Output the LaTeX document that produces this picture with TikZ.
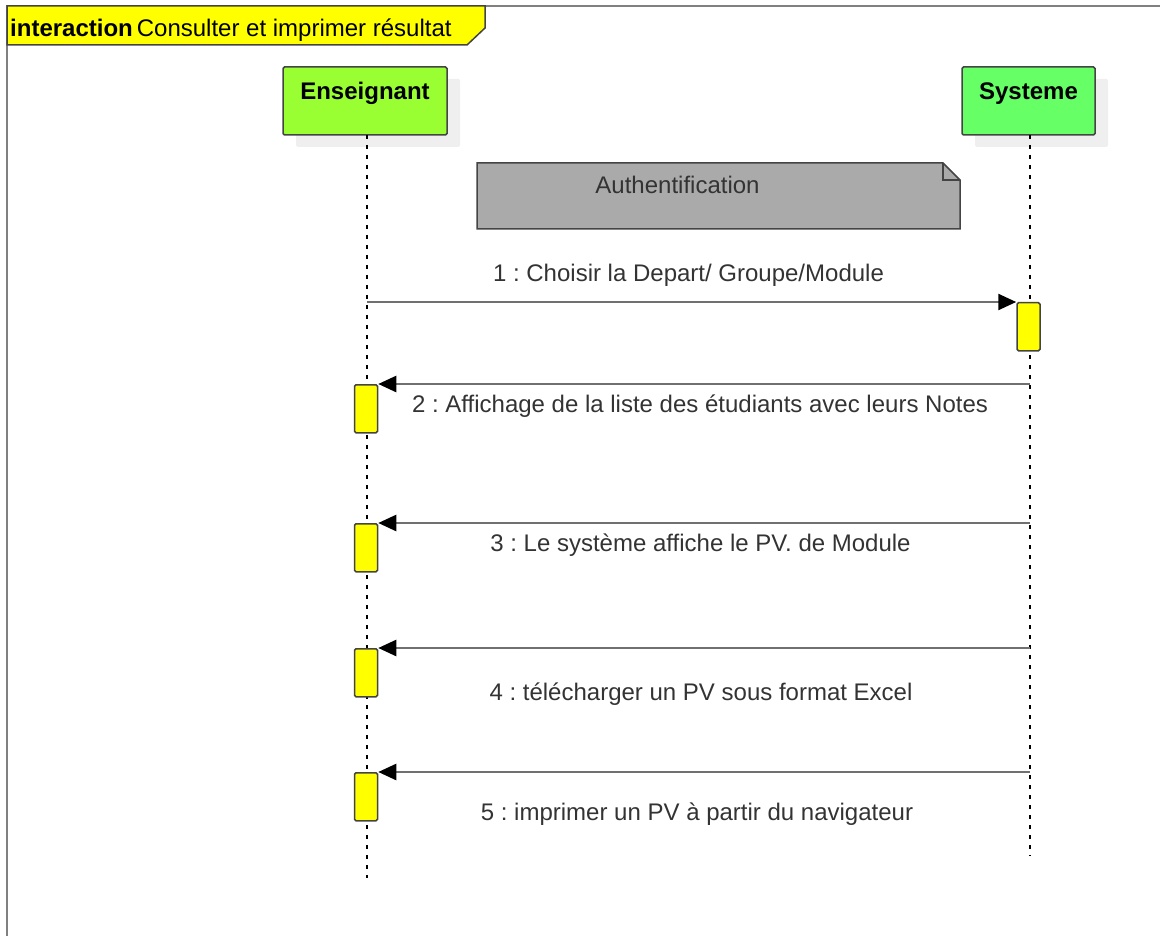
\documentclass[tikz,border=0pt]{standalone}
\usepackage{fontspec}
\setmainfont{Liberation Sans}
\usetikzlibrary{arrows.meta,shadows}
\frenchspacing
\definecolor{enscol}{HTML}{99FF33}
\definecolor{syscol}{HTML}{66FF66}
\definecolor{notecol}{HTML}{AAAAAA}
\definecolor{actcol}{HTML}{FFFF00}
\definecolor{edgecol}{HTML}{444444}
\definecolor{txtcol}{HTML}{333333}
\definecolor{msgcol}{HTML}{707070}
\definecolor{framecol}{HTML}{808080}
\definecolor{shadowcol}{HTML}{EFEFEF}
\tikzset{
  headbox/.style={draw=edgecol, line width=1.5pt, rounded corners=1.5pt, minimum width=164pt, minimum height=68pt, inner sep=0pt,
    drop shadow={shadow xshift=13pt, shadow yshift=-12pt, fill=shadowcol, opacity=1}},
  headtxt/.style={font=\fontsize{24}{28}\selectfont\bfseries, text=black, inner sep=0pt, anchor=base},
  lbl/.style={font=\fontsize{24}{28}\selectfont, text=txtcol, inner sep=0pt, anchor=base},
  life/.style={black, line width=1.6pt, dash pattern=on 4pt off 6pt},
  actbox/.style={draw=edgecol, line width=1.5pt, rounded corners=1.5pt, fill=actcol, minimum width=23pt, minimum height=48pt, inner sep=0pt, anchor=north},
  msg/.style={draw=msgcol, line width=2.4pt, -{Triangle[length=18pt, width=16pt, color=black, fill=black]}},
}
\begin{document}
\begin{tikzpicture}[x=1pt,y=-1pt]
\useasboundingbox (0,0) rectangle (1160,936);
% frame
\draw[framecol, line width=2.5pt] (7,950) -- (7,6) -- (1175,6);
\draw[draw=edgecol, line width=1.5pt, fill=actcol] (7,6) -- (485,6) -- (485,28) -- (467,45) -- (7,45) -- cycle;
\node[lbl, anchor=base west, text=black] (title) at (10,37) {\textbf{interaction}\,Consulter et imprimer résultat};
% heads
\node[headbox, fill=enscol] (ens) at (365,101) {};
\node[headtxt] (enstxt) at (365,100) {Enseignant};
\node[headbox, fill=syscol, minimum width=133pt] (sys) at (1028.5,101) {};
\node[headtxt] (systxt) at (1028.5,100) {Systeme};
% lifelines
\coordinate (ensTop) at (367,135);
\coordinate (ensEnd) at (367,878);
\coordinate (sysTop) at (1030,135);
\coordinate (sysEnd) at (1030,856);
\draw[life] (ensTop) -- (ensEnd);
\draw[life] (sysTop) -- (sysEnd);
% note
\draw[draw=edgecol, line width=1.5pt, fill=notecol] (477,163) -- (943,163) -- (960,180) -- (960,229) -- (477,229) -- cycle;
\draw[draw=edgecol, line width=1.5pt] (943,163) -- (943,180) -- (960,180);
\node[lbl] (note) at (677.5,194) {Authentification};
% activations
\node[actbox] (a1) at (1028.5,302) {};
\node[actbox] (a2) at (366,384) {};
\node[actbox] (a3) at (366,523) {};
\node[actbox] (a4) at (366,648) {};
\node[actbox] (a5) at (366,772) {};
% message sources
\coordinate (s1) at (367,302);
\coordinate (s2) at (1030,384);
\coordinate (s3) at (1030,523);
\coordinate (s4) at (1030,648);
\coordinate (s5) at (1030,772);
\draw[msg] (s1) -- (a1.north west);
\draw[msg] (s2) -- (a2.north east);
\draw[msg] (s3) -- (a3.north east);
\draw[msg] (s4) -- (a4.north east);
\draw[msg] (s5) -- (a5.north east);
% labels
\node[lbl] (m1) at (688.5,282) {1 : Choisir la Depart/ Groupe/Module};
\node[lbl] (m2) at (700,412) {2 : Affichage de la liste des étudiants avec leurs Notes};
\node[lbl] (m3) at (700.5,551) {3 : Le système affiche le PV. de Module};
\node[lbl] (m4) at (701,700) {4 : télécharger un PV sous format Excel};
\node[lbl] (m5) at (697,820) {5 : imprimer un PV à partir du navigateur};
\end{tikzpicture}
\end{document}
